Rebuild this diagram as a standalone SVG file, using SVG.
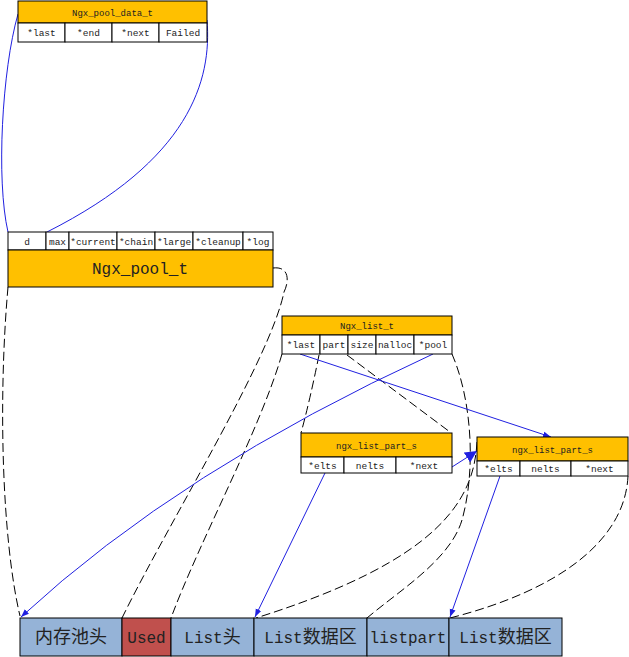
<svg xmlns="http://www.w3.org/2000/svg" width="629" height="657" viewBox="0 0 629 657">
<style>
.hdr{fill:#FFC000;stroke:#000;stroke-width:1}
.fld{fill:#fff;stroke:#000;stroke-width:1}
.cell{fill:#95B3D7;stroke:#000;stroke-width:1}
.used{fill:#C0504D;stroke:#000;stroke-width:1}
.t{font-family:"Liberation Mono","Noto Sans CJK SC",monospace;font-size:9.5px;fill:#222;text-anchor:middle}
.th{font-family:"Liberation Mono","Noto Sans CJK SC",monospace;font-size:9px;fill:#222;text-anchor:middle}
.big{font-family:"Liberation Mono","Noto Sans CJK SC",monospace;font-size:16px;fill:#222;text-anchor:middle}
.cjk{font-family:"Noto Sans CJK SC",sans-serif;font-size:18px}
.blue{fill:none;stroke:#2020E0;stroke-width:1}
.dash{fill:none;stroke:#000;stroke-width:1;stroke-dasharray:9 4}
</style>
<defs>
<marker id="ab" markerUnits="userSpaceOnUse" markerWidth="8" markerHeight="8" viewBox="0 0 8 8" refX="8" refY="4" orient="auto"><path d="M0,1 L8,4 L0,7 Z" fill="#2020E0"/></marker>
<marker id="abig" markerUnits="userSpaceOnUse" markerWidth="12" markerHeight="12" viewBox="0 0 12 12" refX="12" refY="6" orient="auto"><path d="M0,0 L12,6 L0,12 Z" fill="#2020E0"/></marker>
</defs>

<g id="connectors">
<path class="blue" d="M18,14 C2,70 -4,180 8,232"/>
<path class="blue" d="M207,20 C212,80 190,160 47,232"/>
<path class="dash" d="M8,287 C-2,400 2,540 20,616"/>
<path class="dash" d="M273,268 C290,266 289,282 284,292 C270,360 170,520 122,618"/>
<path class="dash" d="M282,354 C260,430 200,540 171,618"/>
<path class="dash" d="M319,355 Q310,400 301,433"/>
<path class="dash" d="M347,355 L450,432"/>
<path class="dash" d="M452,354 C472,400 476,470 462,520 C450,560 400,590 367,618"/>
<path class="dash" d="M477,442 C474,500 440,560 256,618"/>
<path class="dash" d="M628,476 C625,540 560,590 450,618"/>
<path class="blue" d="M433,354 Q180,470 21,617" marker-end="url(#ab)"/>
<path class="blue" d="M300,354 L551,437" marker-end="url(#ab)"/>
<path class="blue" d="M325,473 L255,617" marker-end="url(#ab)"/>
<path class="blue" d="M500,476 L450,617" marker-end="url(#ab)"/>
<path class="blue" d="M452,467 L477,451" stroke-width="3.5" marker-end="url(#abig)"/>
</g>

<g id="ngx_pool_data_t">
<rect class="hdr" x="18" y="1" width="189" height="22"/>
<text class="th" x="112.5" y="15.5">Ngx_pool_data_t</text>
<rect class="fld" x="18" y="23" width="47" height="19"/>
<rect class="fld" x="65" y="23" width="47" height="19"/>
<rect class="fld" x="112" y="23" width="47" height="19"/>
<rect class="fld" x="159" y="23" width="48" height="19"/>
<text class="t" x="41.5" y="36">*last</text>
<text class="t" x="88.5" y="36">*end</text>
<text class="t" x="135.5" y="36">*next</text>
<text class="t" x="183" y="36">Failed</text>
</g>

<g id="ngx_pool_t">
<rect class="fld" x="8" y="232" width="38" height="18"/>
<rect class="fld" x="46" y="232" width="23" height="18"/>
<rect class="fld" x="69" y="232" width="48" height="18"/>
<rect class="fld" x="117" y="232" width="38" height="18"/>
<rect class="fld" x="155" y="232" width="38" height="18"/>
<rect class="fld" x="193" y="232" width="50" height="18"/>
<rect class="fld" x="243" y="232" width="30" height="18"/>
<text class="t" x="27" y="244.5">d</text>
<text class="t" x="57.5" y="244.5">max</text>
<text class="t" x="93" y="244.5">*current</text>
<text class="t" x="136" y="244.5">*chain</text>
<text class="t" x="174" y="244.5">*large</text>
<text class="t" x="218" y="244.5">*cleanup</text>
<text class="t" x="258" y="244.5">*log</text>
<rect class="hdr" x="8" y="250" width="265" height="37"/>
<text class="big" x="140" y="274">Ngx_pool_t</text>
</g>

<g id="ngx_list_t">
<rect class="hdr" x="282" y="316" width="170" height="19"/>
<text class="th" x="367" y="328.5">Ngx_list_t</text>
<rect class="fld" x="282" y="335" width="38" height="19"/>
<rect class="fld" x="320" y="335" width="28" height="19"/>
<rect class="fld" x="348" y="335" width="28" height="19"/>
<rect class="fld" x="376" y="335" width="38" height="19"/>
<rect class="fld" x="414" y="335" width="38" height="19"/>
<text class="t" x="301" y="348">*last</text>
<text class="t" x="334" y="348">part</text>
<text class="t" x="362" y="348">size</text>
<text class="t" x="395" y="348">nalloc</text>
<text class="t" x="433" y="348">*pool</text>
</g>

<g id="ngx_list_part_s_1">
<rect class="hdr" x="301" y="433" width="151" height="24"/>
<text class="th" x="376.5" y="448.5">ngx_list_part_s</text>
<rect class="fld" x="301" y="457" width="43" height="16"/>
<rect class="fld" x="344" y="457" width="52" height="16"/>
<rect class="fld" x="396" y="457" width="56" height="16"/>
<text class="t" x="322.5" y="468.5">*elts</text>
<text class="t" x="370" y="468.5">nelts</text>
<text class="t" x="424" y="468.5">*next</text>
</g>

<g id="ngx_list_part_s_2">
<rect class="hdr" x="477" y="437" width="151" height="24"/>
<text class="th" x="552.5" y="452.5">ngx_list_part_s</text>
<rect class="fld" x="477" y="461" width="43" height="15"/>
<rect class="fld" x="520" y="461" width="51" height="15"/>
<rect class="fld" x="571" y="461" width="57" height="15"/>
<text class="t" x="498.5" y="472">*elts</text>
<text class="t" x="545.5" y="472">nelts</text>
<text class="t" x="599.5" y="472">*next</text>
</g>

<g id="memory">
<rect class="cell" x="20" y="618" width="102" height="38"/>
<rect class="used" x="122" y="618" width="49" height="38"/>
<rect class="cell" x="171" y="618" width="83" height="38"/>
<rect class="cell" x="254" y="618" width="113" height="38"/>
<rect class="cell" x="367" y="618" width="82" height="38"/>
<rect class="cell" x="449" y="618" width="113" height="38"/>
<text class="big" x="71" y="643"><tspan class="cjk">内存池头</tspan></text>
<text class="big" x="146.5" y="643">Used</text>
<text class="big" x="212.5" y="643">List<tspan class="cjk">头</tspan></text>
<text class="big" x="310.5" y="643">List<tspan class="cjk">数据区</tspan></text>
<text class="big" x="408" y="643">listpart</text>
<text class="big" x="505.5" y="643">List<tspan class="cjk">数据区</tspan></text>
</g>
</svg>
